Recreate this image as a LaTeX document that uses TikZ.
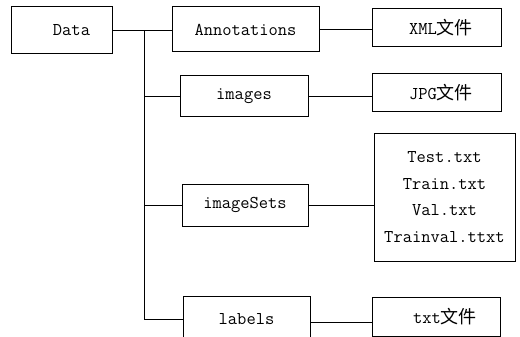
\documentclass[tikz,border=0pt]{standalone}
\usepackage{fontspec}
\newfontfamily\cjk{Noto Sans CJK SC}
\begin{document}
\begin{tikzpicture}[x=1pt,y=-1pt,
  box/.style={draw, line width=1pt, inner sep=0pt,
    font=\ttfamily\fontsize{18pt}{26.7pt}\selectfont},
  link/.style={line width=1pt}]
\useasboundingbox (0,0) rectangle (520,337);
\fill[white] (0,0) rectangle (520,337);

% folder tree
\node[box, minimum width=101pt, minimum height=47pt] (data) at (61.5,30.5) {\hspace*{20pt}Data};
\node[box, minimum width=147pt, minimum height=45pt] (annot) at (245.5,29.5) {Annotations};
\node[box, minimum width=128pt, minimum height=41pt] (images) at (244,96.5) {images};
\node[box, minimum width=126pt, minimum height=42pt] (sets) at (245,205) {imageSets};
\node[box, minimum width=127pt, minimum height=46pt] (labels) at (246.5,319) {labels};

% contents of each folder
\node[box, minimum width=129pt, minimum height=38pt] (xml) at (436.5,28) {\hspace*{9pt}XML{\cjk 文件}};
\node[box, minimum width=129pt, minimum height=38pt] (jpg) at (436.5,93) {\hspace*{9pt}JPG{\cjk 文件}};
\node[box, minimum width=141pt, minimum height=128pt, align=center] (txt) at (444.5,197)
  {Test.txt\\Train.txt\\Val.txt\\Trainval.ttxt};
\node[box, minimum width=128pt, minimum height=39pt] (txtf) at (436,316.5) {\hspace*{18pt}txt{\cjk 文件}};

% trunk and branches
\coordinate (top) at (144,31);
\coordinate (trunkend) at (144,319);
\draw[link] (data.east |- top) -- (annot.west |- top);
\draw[link] (top) -- (trunkend) -- (labels.west);
\draw[link] (top |- images.west) -- (images.west);
\draw[link] (top |- sets.west) -- (sets.west);

% folder to contents
\draw[link] (annot.east) -- (xml.west |- annot.east);
\draw[link] (images.east) -- (jpg.west |- images.east);
\draw[link] (sets.east) -- (txt.west |- sets.east);
\draw[link] ([yshift=-3pt]labels.east) -- ([yshift=-3pt]labels.east -| txtf.west);
\end{tikzpicture}
\end{document}
